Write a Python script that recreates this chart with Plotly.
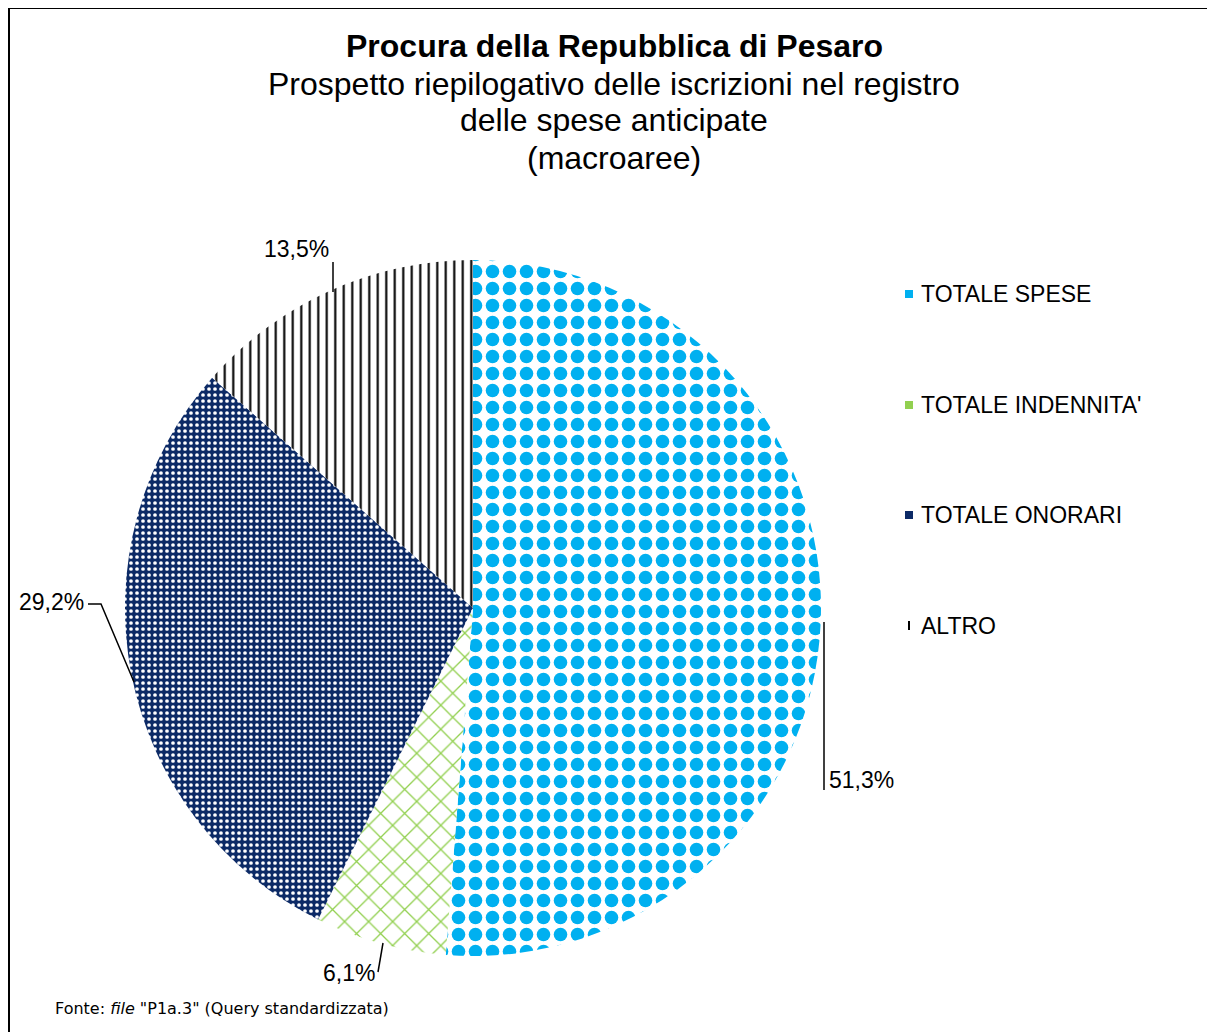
import plotly.graph_objects as go

# ---------------- data ----------------
categories = ["TOTALE SPESE", "TOTALE INDENNITA'", "TOTALE ONORARI", "ALTRO"]
percentages = [51.3, 6.1, 29.2, 13.5]

title_bold = "Procura della Repubblica di Pesaro"
title_lines = [
    "Prospetto riepilogativo delle iscrizioni nel registro",
    "delle spese anticipate",
    "(macroaree)",
]
source_note = 'Fonte: <i>file</i> "P1a.3" (Query standardizzata)'

# ---------------- styles ----------------
W, H = 1215, 1032
OFF = 8  # page body margin
fg_colors = ["#00B0F0", "#92D050", "#FFFFFF", "#000000"]
bg_colors = ["#FFFFFF", "#FFFFFF", "#0C2A66", "#FFFFFF"]
shapes_pat = [".", "x", ".", "|"]
sizes_pat = [17, 17, 6, 8.5]
solid_pat = [0.5, 0.15, 0.3, 0.25]
legend_sym = ["#00B0F0", "#92D050", "#0C2A66", "#000000"]

FONT = "Liberation Sans, Arial, sans-serif"


def px(x):
    return (x - OFF) / W


def py(y):
    return 1 - (y - OFF) / H


fig = go.Figure()
fig.add_trace(go.Pie(
    labels=categories,
    values=percentages,
    sort=False,
    direction="clockwise",
    rotation=0,
    textinfo="none",
    showlegend=False,
    marker=dict(
        colors=bg_colors,
        line=dict(width=0),
        pattern=dict(
            shape=shapes_pat,
            fgcolor=fg_colors,
            bgcolor=bg_colors,
            size=sizes_pat,
            solidity=solid_pat,
            fillmode="replace",
        ),
    ),
    domain=dict(x=[px(125), px(821)], y=[py(956), py(260)]),
    hovertemplate="%{label}: %{value:.1f}%<extra></extra>",
))


def fmt(v):
    return f"{v:.1f}".replace(".", ",") + "%"


annotations = []
shapes = []

# titles
annotations.append(dict(text=f"<b>{title_bold}</b>", x=px(614), y=py(46),
                        xref="paper", yref="paper", showarrow=False,
                        xanchor="center", yanchor="middle",
                        font=dict(family=FONT, size=32, color="#000")))
for t, yy in zip(title_lines, [84, 120, 158]):
    annotations.append(dict(text=t, x=px(614), y=py(yy),
                            xref="paper", yref="paper", showarrow=False,
                            xanchor="center", yanchor="middle",
                            font=dict(family=FONT, size=32, color="#000")))

# data labels with leader lines
label_pos = [  # (x, y, xanchor)
    (827, 780, "left"),
    (377, 973, "right"),
    (86, 602, "right"),
    (331, 249, "right"),
]
leaders = [
    [(824, 622), (824, 790)],
    [(378, 972), (383, 943)],
    [(88, 604), (101, 604), (134, 682)],
    [(333, 262), (333, 292)],
]
for v, (lx, ly, anc), pts in zip(percentages, label_pos, leaders):
    annotations.append(dict(text=fmt(v), x=px(lx), y=py(ly),
                            xref="paper", yref="paper", showarrow=False,
                            xanchor=anc, yanchor="middle",
                            font=dict(family=FONT, size=23, color="#000")))
    path = "M " + " L ".join(f"{px(a)},{py(b)}" for a, b in pts)
    shapes.append(dict(type="path", path=path, xref="paper", yref="paper",
                       line=dict(color="#000", width=1.5)))

# legend (manual, to match spacing)
leg_y = [294, 405, 515, 626]
for name, col, yy, shp in zip(categories, legend_sym, leg_y, shapes_pat):
    annotations.append(dict(text=name, x=px(919), y=py(yy),
                            xref="paper", yref="paper", showarrow=False,
                            xanchor="left", yanchor="middle",
                            font=dict(family=FONT, size=23, color="#000")))
    if shp == "|":
        shapes.append(dict(type="line", xref="paper", yref="paper",
                           x0=px(909), x1=px(909), y0=py(yy - 5), y1=py(yy + 4),
                           line=dict(color=col, width=2)))
    else:
        shapes.append(dict(type="rect", xref="paper", yref="paper",
                           x0=px(905), x1=px(913), y0=py(yy + 4), y1=py(yy - 4),
                           fillcolor=col, line=dict(width=0)))

# source note
annotations.append(dict(text=source_note, x=px(53), y=py(1008),
                        xref="paper", yref="paper", showarrow=False,
                        xanchor="left", yanchor="middle",
                        font=dict(family="DejaVu Sans, Verdana, sans-serif",
                                  size=16, color="#000")))

# frame (left and top edges)
shapes.append(dict(type="line", xref="paper", yref="paper",
                   x0=px(9), x1=px(9), y0=py(8), y1=0,
                   line=dict(color="#000", width=2)))
shapes.append(dict(type="line", xref="paper", yref="paper",
                   x0=px(8), x1=1, y0=py(8), y1=py(8),
                   line=dict(color="#000", width=2)))

fig.update_layout(
    width=W, height=H,
    margin=dict(l=0, r=0, t=0, b=0),
    paper_bgcolor="white",
    plot_bgcolor="white",
    annotations=annotations,
    shapes=shapes,
    showlegend=False,
)

fig.write_html("out.html")
